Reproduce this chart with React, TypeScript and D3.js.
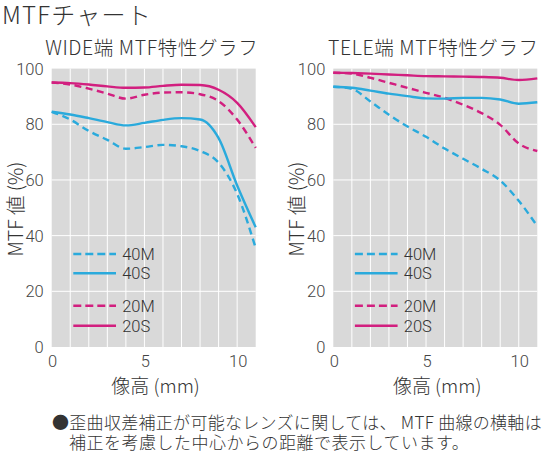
import React from "react";
import * as d3 from "d3";

const heights = [0, 1, 2, 3, 4, 5, 6, 7, 8, 9, 10, 11];

const wide20S = [95, 94.8, 94.3, 93.6, 93.1, 93.2, 93.8, 94.2, 94.1, 92.4, 87.7, 79];
const wide20M = [95, 94.3, 92.8, 91, 89.2, 90.6, 91.4, 91.5, 90.8, 88.3, 81.7, 71.5];
const wide40S = [84.5, 83.5, 82.2, 80.8, 79.6, 80.5, 81.6, 82.2, 81.7, 75, 58, 43];
const wide40M = [84.5, 81.7, 77.6, 74.4, 71.2, 71.8, 72.6, 72.1, 70.4, 66.2, 55, 35.5];

const tele20S = [98.5, 98.4, 98.2, 97.9, 97.6, 97.3, 97.2, 97.1, 97, 96.7, 95.9, 96.5];
const tele20M = [98.5, 98.2, 96.7, 94.9, 93.1, 91.3, 89.5, 87, 84, 79.8, 73.1, 70.4];
const tele40S = [93.5, 93.1, 92.1, 91, 90.1, 89.3, 89.2, 89.5, 89.5, 88.9, 87.4, 87.9];
const tele40M = [93.5, 92.7, 88.2, 83.4, 79.2, 75.5, 71.3, 67.6, 64, 59.8, 52.5, 43.4];

const yTicks = [0, 20, 40, 60, 80, 100];
const xTicks = [0, 5, 10];
const xGrid = [1, 2, 3, 4, 5, 6, 7, 8, 9, 10];
const legendLabels = ["40M", "40S", "20M", "20S"];

const CYAN = "#2aaadc";
const MAGENTA = "#d21f7f";
const TEXT = "#333";
const NUM_FONT = "'Roboto', 'DejaVu Sans Condensed', sans-serif";
const JP_FONT = "'Noto Sans CJK JP', 'Noto Sans', sans-serif";

type Series = { values: number[]; color: string; dashed: boolean };

function Panel({ x0, title, series }: { x0: number; title: string; series: Series[] }) {
  const x = d3.scaleLinear().domain([0, 11]).range([x0, x0 + 204]);
  const y = d3.scaleLinear().domain([0, 100]).range([347, 68.6]);
  const line = d3
    .line<number>()
    .x((_, i) => x(heights[i]))
    .y((d) => y(d))
    .curve(d3.curveMonotoneX);
  const legendY = [254, 273.3, 305.7, 325.7];
  const legendSeries = [series[3], series[2], series[1], series[0]];
  return (
    <g>
      <text x={x0 + 100} y={55} textAnchor="middle" fontFamily={JP_FONT} fontWeight={300} fontSize={19.5} letterSpacing={0.6} fill={TEXT}>
        {title}
      </text>
      <rect x={x(0)} y={y(100)} width={x(11) - x(0)} height={y(0) - y(100)} fill="#d9d9d9" />
      {xGrid.map((t) => (
        <line key={"xg" + t} x1={x(t)} x2={x(t)} y1={y(0)} y2={y(100)} stroke="#fff" strokeWidth={1} />
      ))}
      {yTicks.slice(1, 5).map((t) => (
        <line key={"yg" + t} x1={x(0)} x2={x(11)} y1={y(t)} y2={y(t)} stroke="#fff" strokeWidth={1} />
      ))}
      {yTicks.map((t) => (
        <text key={"yt" + t} x={x(0) - 8} y={y(t) + 6} textAnchor="end" fontFamily={NUM_FONT} fontWeight={300} fontSize={16.5} fill="#444">
          {t}
        </text>
      ))}
      {xTicks.map((t) => (
        <text key={"xt" + t} x={x(t) + 1} y={367} textAnchor="middle" fontFamily={NUM_FONT} fontWeight={300} fontSize={16.5} fill="#444">
          {t}
        </text>
      ))}
      <text x={x(5.6)} y={393} textAnchor="middle" fontFamily={JP_FONT} fontWeight={300} fontSize={19} fill={TEXT}>
        像高 (mm)
      </text>
      <text
        transform={`translate(${x0 - 29},209) rotate(-90)`}
        textAnchor="middle"
        fontFamily={JP_FONT}
        fontWeight={300}
        fontSize={19.5}
        fill={TEXT}
      >
        MTF 値 (%)
      </text>
      {series.map((s, i) => (
        <path
          key={"s" + i}
          d={line(s.values) || ""}
          fill="none"
          stroke={s.color}
          strokeWidth={2.4}
          strokeDasharray={s.dashed ? "7,4.5" : undefined}
        />
      ))}
      {legendSeries.map((s, i) => (
        <g key={"lg" + i}>
          <line
            x1={x0 + 21.6}
            x2={x0 + 64.3}
            y1={legendY[i]}
            y2={legendY[i]}
            stroke={s.color}
            strokeWidth={2.4}
            strokeDasharray={s.dashed ? "8,4" : undefined}
          />
          <text x={x0 + 70.5} y={legendY[i] + 6} fontFamily={NUM_FONT} fontWeight={300} fontSize={16.5} fill={TEXT}>
            {legendLabels[i]}
          </text>
        </g>
      ))}
    </g>
  );
}

export default function App() {
  const wideSeries: Series[] = [
    { values: wide20S, color: MAGENTA, dashed: false },
    { values: wide20M, color: MAGENTA, dashed: true },
    { values: wide40S, color: CYAN, dashed: false },
    { values: wide40M, color: CYAN, dashed: true },
  ];
  const teleSeries: Series[] = [
    { values: tele20S, color: MAGENTA, dashed: false },
    { values: tele20M, color: MAGENTA, dashed: true },
    { values: tele40S, color: CYAN, dashed: false },
    { values: tele40M, color: CYAN, dashed: true },
  ];
  return (
    <svg
      width={545}
      height={454}
      style={{ position: "absolute", left: 0, top: 0, background: "#fff" }}
    >
      <text x={2} y={24} fontFamily={JP_FONT} fontWeight={300} fontSize={24} letterSpacing={1.2} fill={TEXT}>
        MTFチャート
      </text>
      <Panel x0={51.7} title="WIDE端 MTF特性グラフ" series={wideSeries} />
      <Panel x0={333.3} title="TELE端 MTF特性グラフ" series={teleSeries} />
      <text x={52} y={429} fontFamily={JP_FONT} fontWeight={300} fontSize={17} letterSpacing={0.3} fill={TEXT}>
        ●歪曲収差補正が可能なレンズに関しては、 MTF 曲線の横軸は
      </text>
      <text x={69} y={449} fontFamily={JP_FONT} fontWeight={300} fontSize={17} letterSpacing={0.5} fill={TEXT}>
        補正を考慮した中心からの距離で表示しています。
      </text>
    </svg>
  );
}
